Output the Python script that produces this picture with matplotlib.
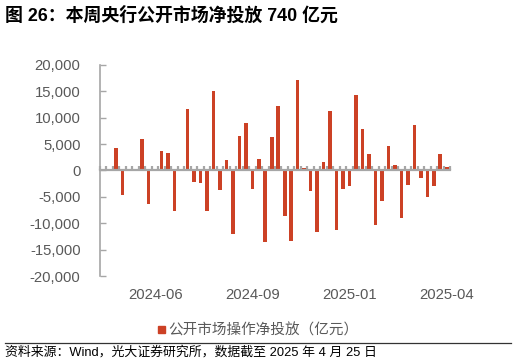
import pandas as pd
import matplotlib
matplotlib.use("Agg")
import matplotlib.pyplot as plt
import matplotlib.transforms as mtransforms
from matplotlib.patches import Rectangle

plt.rcParams['font.family'] = ['Liberation Sans', 'Noto Sans CJK SC', 'DejaVu Sans']

# 每周公开市场操作净投放（亿元），截至 2025-04-25
weeks = pd.date_range(end="2025-04-25", periods=54, freq="W-FRI")
net_injection = [
    0, 0, 4300, -4700, 0, 0, 6000, -6300, 0, 3700,
    3300, -7600, 0, 11600, -2100, -2300, -7700, 15100, -3700, 1900,
    -12100, 6500, 9000, -3500, 2100, -13500, 6300, 12300, -8700, -13400,
    17100, 400, -3900, -11600, 1700, 11200, -11200, -3600, -2900, 14300,
    7900, 3200, -10300, -5800, 4600, 1100, -9000, -2700, 8600, -1500,
    -5100, -3000, 3200, 740,
]
yticks = [-20000, -15000, -10000, -5000, 0, 5000, 10000, 15000, 20000]
label_idx = [8, 23, 38, 53]

bar_color = "#CC4125"
grey = "#A6A6A6"
text_grey = "#595959"

fig = plt.figure(figsize=(5.16, 3.64), dpi=100)
ax = fig.add_axes([100 / 516, 1 - 276 / 364, 350 / 516, 211 / 364])

x = list(range(len(net_injection)))
ax.bar(x, net_injection, width=0.55, color=bar_color, zorder=2)

ax.set_xlim(-0.5, len(x) - 0.5)
ax.set_ylim(-20000, 20000)
ax.set_yticks(yticks)
ax.set_yticklabels([f"{v:,}" for v in yticks], color=text_grey, fontsize=10.7)
ax.tick_params(axis='y', direction='in', length=4, width=1, color=grey, pad=14)

# 零轴 + 每周刻度
ax.spines['bottom'].set_position(('data', 0))
ax.spines['bottom'].set_color(grey)
ax.spines['bottom'].set_linewidth(1.6)
ax.spines['bottom'].set_zorder(3)
ax.set_xticks([i - 0.5 for i in range(len(x) + 1)])
ax.set_xticklabels([])
ax.tick_params(axis='x', direction='in', length=3, width=1.6, color=grey)
ax.spines['left'].set_color(grey)
ax.spines['left'].set_linewidth(1.2)
ax.spines['top'].set_visible(False)
ax.spines['right'].set_visible(False)

trans = mtransforms.blended_transform_factory(ax.transData, fig.transFigure)
for i in label_idx:
    ax.text(i, 1 - 295 / 364, weeks[i].strftime("%Y-%m"), transform=trans,
            ha='center', va='center', fontsize=10.7, color=text_grey)

# 标题
fig.text(5 / 516, 1 - 15.5 / 364, "图 26：本周央行公开市场净投放 740 亿元",
         fontsize=12.9, fontweight='bold', ha='left', va='center', color='black')

# 图例
fig.patches.append(Rectangle((158 / 516, 1 - 333 / 364), 7 / 516, 7 / 364,
                             transform=fig.transFigure, color=bar_color))
fig.text(168 / 516, 1 - 330.5 / 364, "公开市场操作净投放（亿元）",
         fontsize=10.5, ha='left', va='center', color=text_grey)

# 分隔线与资料来源
fig.add_artist(plt.Line2D([5 / 516, 511 / 516], [1 - 343 / 364, 1 - 343 / 364],
                          transform=fig.transFigure, color='#333333', linewidth=0.9))
fig.text(5 / 516, 1 - 352.5 / 364, "资料来源：Wind，光大证券研究所，数据截至 2025 年 4 月 25 日",
         fontsize=9.3, ha='left', va='center', color='black')

fig.savefig("out.png", dpi=100)
